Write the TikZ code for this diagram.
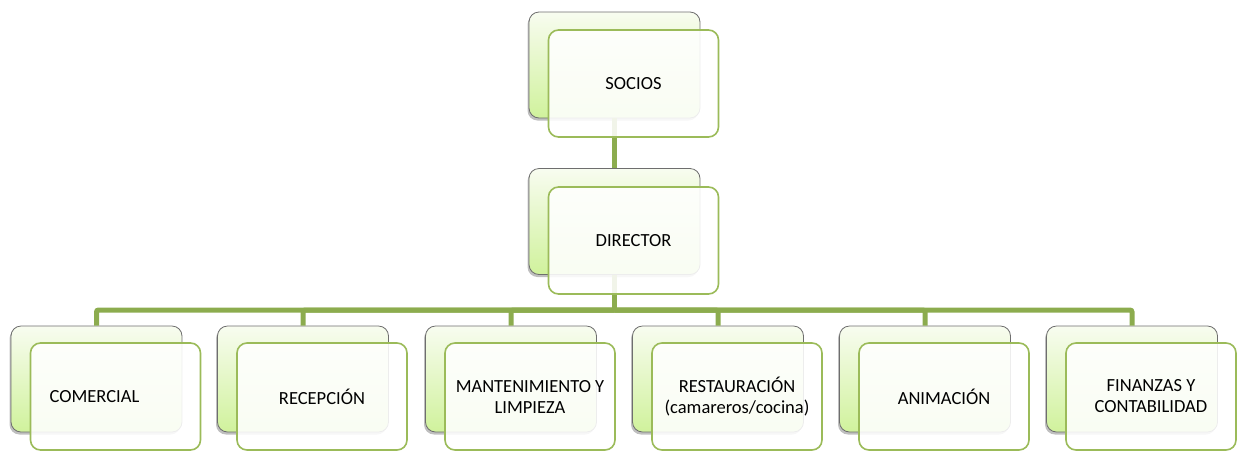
\documentclass[tikz,border=0pt]{standalone}
\usepackage{fontspec}
\setmainfont{Carlito}
\usetikzlibrary{shadows}
\definecolor{leafgreen}{RGB}{155,187,89}
\definecolor{linkgreen}{RGB}{140,172,78}
\definecolor{palegreen}{RGB}{208,242,156}
\definecolor{paletop}{RGB}{248,252,240}
\definecolor{backgray}{RGB}{110,110,110}
\begin{document}
\begin{tikzpicture}[x=1pt,y=-1pt,
        backbox/.style={draw=backgray,line width=0.8pt,rounded corners=10pt,
            top color=paletop,bottom color=palegreen,
            minimum width=171pt,minimum height=106pt,inner sep=0pt,
            drop shadow={shadow xshift=-1.5pt,shadow yshift=-2.5pt,opacity=0.5}},
        frontbox/.style={draw=leafgreen,line width=1.6pt,rounded corners=10pt,
            fill=white,fill opacity=0.88,text opacity=1,
            minimum width=170pt,minimum height=107pt,inner sep=0pt,
            align=center,font=\fontsize{18.5}{21}\selectfont},
        link/.style={draw=linkgreen,line width=5pt,rounded corners=2pt}]
    \useasboundingbox (0,0) rectangle (1243,451);
    \coordinate (bus) at (614.5,310);
    \node[backbox] (socb) at (614.5,65) {};
    \node[backbox] (dirb) at (614.5,221.5) {};
    \node[backbox] (comb) at (96.5,379) {};
    \node[backbox] (recb) at (303,379) {};
    \node[backbox] (manb) at (511,379) {};
    \node[backbox] (resb) at (718,379) {};
    \node[backbox] (anib) at (925,379) {};
    \node[backbox] (finb) at (1132,379) {};
    \path[link] (socb.south) -- (dirb.north);
    \path[link] (dirb.south) -- (bus);
    \path[link] (bus) -| (comb.north);
    \path[link] (bus) -| (recb.north);
    \path[link] (bus) -| (manb.north);
    \path[link] (bus) -| (resb.north);
    \path[link] (bus) -| (anib.north);
    \path[link] (bus) -| (finb.north);
    \node[frontbox] (soc) at (633.5,83.5) {SOCIOS};
    \node[frontbox] (dir) at (633.5,240.5) {DIRECTOR};
    \node[frontbox] (com) at (115.5,396.5) {COMERCIAL\hspace*{42pt}};
    \node[frontbox] (rec) at (322,396.5) {RECEPCIÓN};
    \node[frontbox] (man) at (530,396.5) {MANTENIMIENTO Y\\LIMPIEZA};
    \node[frontbox] (res) at (737,396.5) {RESTAURACIÓN\\(camareros/cocina)};
    \node[frontbox] (ani) at (944,396.5) {ANIMACIÓN};
    \node[frontbox] (fin) at (1151,396.5) {FINANZAS Y\\CONTABILIDAD};
\end{tikzpicture}
\end{document}
